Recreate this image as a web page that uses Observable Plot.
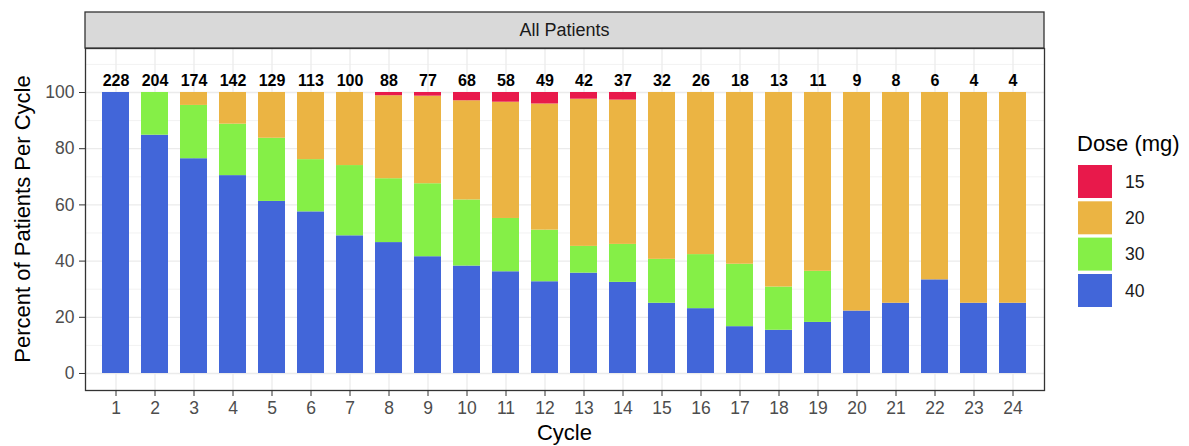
<!DOCTYPE html>
<html><head><meta charset="utf-8">
<script src="https://cdn.jsdelivr.net/npm/d3@7"></script>
<script src="https://cdn.jsdelivr.net/npm/@observablehq/plot@0.6"></script>
<style>
body{margin:0;background:#fff;}
#chart svg{display:block;font-family:"Liberation Sans",Arial,sans-serif;overflow:visible;}
</style>
</head><body><div id="chart"></div>
<script>
// ---- data (patients per cycle by dose) ----
const cycles = ["1","2","3","4","5","6","7","8","9","10","11","12","13","14","15","16","17","18","19","20","21","22","23","24"];
const totals = [228,204,174,142,129,113,100,88,77,68,58,49,42,37,32,26,18,13,11,9,8,6,4,4];
const dose40 = [228,173,133,100,79,65,49,41,32,26,21,16,15,12,8,6,3,2,2,2,2,2,1,1];
const dose30 = [0,31,33,26,29,21,25,20,20,16,11,9,4,5,5,5,4,2,2,0,0,0,0,0];
const dose20 = [0,0,8,16,21,27,26,26,24,24,24,22,22,19,19,15,11,9,7,7,6,4,3,3];
const dose15 = [0,0,0,0,0,0,0,1,1,2,2,2,1,1,0,0,0,0,0,0,0,0,0,0];
const doses = ["15","20","30","40"];
const doseColors = ["#E8194B","#EBB443","#85EF47","#4266D9"];
const stackOrder = ["40","30","20","15"];
const yTicks = [0,20,40,60,80,100];
const yMinor = [10,30,50,70,90,110];

const counts = {"40":dose40,"30":dose30,"20":dose20,"15":dose15};
const rows = [];
cycles.forEach((c,i)=>{
  stackOrder.forEach(d=>{
    const n = counts[d][i];
    if(n>0) rows.push({cycle:c, dose:d, pct:n/totals[i]*100});
  });
});
const labelRows = cycles.map((c,i)=>({cycle:c, total:String(totals[i])}));

const FONT = '"Liberation Sans",Arial,sans-serif';
const plot = Plot.plot({
  width:1189, height:446,
  marginLeft:85, marginRight:145, marginTop:48, marginBottom:56,
  style:{fontFamily:FONT, background:"#fff"},
  x:{type:"band", domain:cycles, paddingInner:0.3, paddingOuter:0.25, label:null},
  y:{domain:[-6.05,115.66], label:null},
  color:{domain:doses, range:doseColors},
  marks:[
    Plot.gridY(yMinor, {stroke:"#EDEDED", strokeOpacity:1, strokeWidth:0.7}),
    Plot.gridY(yTicks, {stroke:"#EBEBEB", strokeOpacity:1, strokeWidth:1.3}),
    Plot.gridX({stroke:"#EBEBEB", strokeOpacity:1, strokeWidth:1.3}),
    Plot.barY(rows, {x:"cycle", y:"pct", fill:"dose", z:"dose", order:stackOrder}),
    Plot.text(labelRows, {x:"cycle", y:104.3, text:"total", fontWeight:"bold", fontSize:16, fill:"#000"}),
    Plot.axisY(yTicks, {tickSize:6, tickPadding:5, fontSize:17.5, fill:"#4D4D4D", stroke:"#333", label:null}),
    Plot.axisX({tickSize:6, tickPadding:5, fontSize:17.5, fill:"#4D4D4D", stroke:"#333", label:null}),
    Plot.frame({stroke:"#333", strokeWidth:1.3})
  ]
});
document.getElementById("chart").appendChild(plot);

const svg = d3.select(plot);
// facet strip
svg.append("rect").attr("x",85).attr("y",12).attr("width",959).attr("height",36)
  .attr("fill","#D9D9D9").attr("stroke","#333").attr("stroke-width",1.3);
svg.append("text").attr("x",564.5).attr("y",30).attr("text-anchor","middle")
  .attr("dominant-baseline","central").attr("font-size",18).attr("fill","#1A1A1A")
  .attr("font-family",FONT).text("All Patients");
// axis titles
svg.append("text").attr("transform","translate(30,219) rotate(-90)").attr("text-anchor","middle")
  .attr("font-size",22).attr("fill","#000").attr("font-family",FONT).text("Percent of Patients Per Cycle");
svg.append("text").attr("x",564.5).attr("y",440).attr("text-anchor","middle")
  .attr("font-size",22).attr("fill","#000").attr("font-family",FONT).text("Cycle");
// legend
const color = plot.scale("color");
svg.append("text").attr("x",1077).attr("y",151).attr("text-anchor","start").attr("font-size",22).attr("fill","#000")
  .attr("font-family",FONT).text("Dose (mg)");
const keyY = [165,201.3,237.6,274];
doses.forEach((d,i)=>{
  svg.append("rect").attr("x",1078).attr("y",keyY[i]).attr("width",34).attr("height",33)
    .attr("fill",color.apply(d));
  svg.append("text").attr("x",1125).attr("y",keyY[i]+16.5).attr("text-anchor","start").attr("dominant-baseline","central")
    .attr("font-size",17.6).attr("fill","#1A1A1A").attr("font-family",FONT).text(d);
});
</script>
</body></html>
